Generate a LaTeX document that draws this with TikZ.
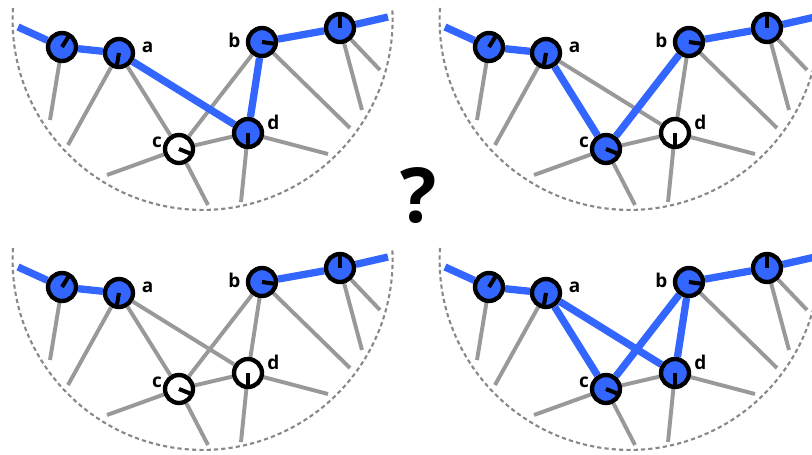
\documentclass[tikz,border=0pt]{standalone}
\usepackage{fontspec}
\setmainfont{Open Sans}
\usetikzlibrary{backgrounds}

\definecolor{netblue}{RGB}{51,102,255}
\definecolor{netgrey}{RGB}{153,153,153}
\definecolor{rimgrey}{RGB}{136,136,136}

% one half disc of the network: #1 fill of c, #2 fill of d
\newcommand{\halfnet}[2]{%
  \node[vertex=58, fill=netblue] (pl) at (62,-47) {};
  \node[vertex=-100, fill=netblue] (a) at (119,-53) {};
  \node[vertex=-8, fill=netblue] (b) at (262,-42) {};
  \node[vertex=90, fill=netblue] (pr) at (340,-28) {};
  \node[vertex=-22, fill=#1] (c) at (179,-149) {};
  \node[vertex=-90, fill=#2] (d) at (248,-133) {};
  \node[tag] (ta) at (147.5,-47) {a};
  \node[tag] (tb) at (234.5,-40) {b};
  \node[tag] (tc) at (157,-142) {c};
  \node[tag] (td) at (273.5,-122) {d};
  \coordinate (s) at (18,-27);
  \coordinate (t) at (388,-17);
  \coordinate (o1) at (50,-120);
  \coordinate (o2) at (68,-145);
  \coordinate (o3) at (107,-175);
  \coordinate (o4) at (208,-205);
  \coordinate (o5) at (241,-202);
  \coordinate (o6) at (328,-154);
  \coordinate (o7) at (350,-128);
  \coordinate (o8) at (362,-110);
  \coordinate (o9) at (380,-70);
  \begin{pgfonlayer}{background}
    \draw[rim] (13,-8) arc[start angle=176.4, end angle=363.6, radius=190];
    \draw[link] (pl) -- (o1) (a) -- (o2) (c) -- (o3) (c) -- (o4)
      (d) -- (o5) (d) -- (o6) (b) -- (o7) (pr) -- (o8) (pr) -- (o9)
      (c) -- (d);
    \draw[strong] (s) -- (pl) -- (a) (b) -- (pr) -- (t);
  \end{pgfonlayer}
}

\begin{document}
\begin{tikzpicture}[
    x=0.025cm, y=0.025cm,
    vertex/.style={circle, draw, line width=3.1pt, inner sep=0pt,
      minimum size=19.9pt,
      path picture={\draw[line width=2.9pt]
        (path picture bounding box.center) -- ++(#1:12);}},
    tag/.style={inner sep=0pt, font=\fontsize{13.5}{16}\selectfont\bfseries},
    quest/.style={inner sep=0pt, font=\fontsize{54}{62}\selectfont\bfseries},
    rim/.style={rimgrey, line width=1.5pt, dash pattern=on 3pt off 2.2pt},
    link/.style={netgrey, line width=2.8pt},
    strong/.style={netblue, line width=5.2pt}
]
\useasboundingbox (0,0) rectangle (812,-455);

% top left: c left out, d joined to a and b
\begin{scope}[name prefix=tl-]
\halfnet{white}{netblue}
\begin{pgfonlayer}{background}
\draw[link] (a) -- (c) (b) -- (c);
\draw[strong] (a) -- (d) (b) -- (d);
\end{pgfonlayer}
\end{scope}

% top right: d left out, c joined to a and b
\begin{scope}[shift={(427,0)}, name prefix=tr-]
\halfnet{netblue}{white}
\begin{pgfonlayer}{background}
\draw[link] (a) -- (d) (b) -- (d);
\draw[strong] (a) -- (c) (b) -- (c);
\end{pgfonlayer}
\end{scope}

% bottom left: neither
\begin{scope}[shift={(0,-240)}, name prefix=bl-]
\halfnet{white}{white}
\begin{pgfonlayer}{background}
\draw[link] (a) -- (c) (b) -- (c) (a) -- (d) (b) -- (d);
\end{pgfonlayer}
\end{scope}

% bottom right: both
\begin{scope}[shift={(427,-240)}, name prefix=br-]
\halfnet{netblue}{netblue}
\begin{pgfonlayer}{background}
\draw[strong] (a) -- (c) (b) -- (c) (a) -- (d) (b) -- (d);
\end{pgfonlayer}
\end{scope}

\node[quest] (q) at (419,-196) {?};

\end{tikzpicture}
\end{document}
